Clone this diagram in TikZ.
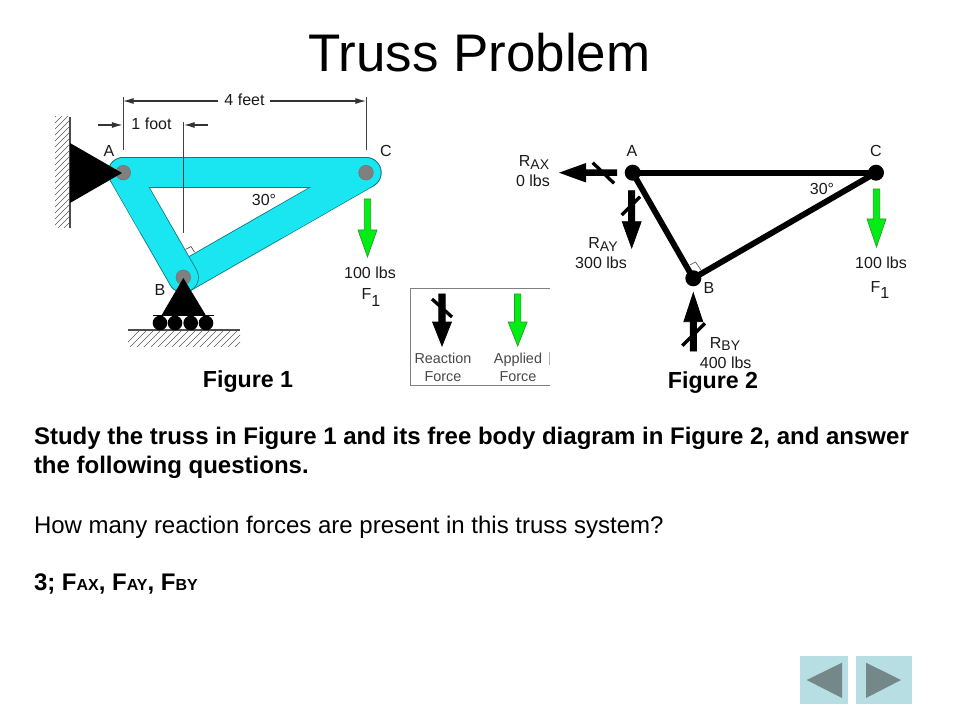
\documentclass[tikz,border=0pt]{standalone}
\usepackage{fontspec}
\usetikzlibrary{arrows.meta}
\setmainfont{Liberation Sans}
\definecolor{barfill}{HTML}{19E6F0}
\definecolor{baredge}{HTML}{0C7C84}
\definecolor{pingray}{HTML}{808080}
\definecolor{forcegreen}{HTML}{00EE14}
\definecolor{greenedge}{HTML}{2A9A2A}
\definecolor{btnface}{HTML}{B7DEE2}
\definecolor{btntri}{HTML}{74888A}
\definecolor{labelgray}{HTML}{1A1A1A}
\newcommand{\lowtxt}[1]{\raisebox{-0.15em}{\fontsize{10.5}{10.5}\selectfont #1}}
\newcommand{\subone}{\raisebox{-0.4em}{\fontsize{12}{12}\selectfont 1}}
\newcommand{\smalltxt}[1]{{\fontsize{12}{12}\selectfont #1}}
\newcommand{\arrowV}[6]{\path[draw=#6,fill=#5,line width=0.5pt] (#1-3.2,#2) -- (#1+3.2,#2) -- (#1+3.2,#3) -- (#1+9.5,#3) -- (#1,#4) -- (#1-9.5,#3) -- (#1-3.2,#3) -- cycle;}
\begin{document}
\begin{tikzpicture}[x=0.75pt,y=-0.75pt,
  every node/.style={inner sep=0pt,outer sep=0pt},
  titletext/.style={font=\fontsize{39.7}{39.7}\selectfont,anchor=base},
  bodytext/.style={font=\fontsize{18}{18}\selectfont,anchor=base west},
  boldtext/.style={font=\bfseries\fontsize{18}{18}\selectfont,anchor=base west},
  figtext/.style={font=\bfseries\fontsize{17.4}{17.4}\selectfont,anchor=base},
  dimtext/.style={font=\fontsize{12}{12}\selectfont,text=labelgray,anchor=base},
  legendtext/.style={font=\fontsize{10.8}{10.8}\selectfont,text=labelgray!80,anchor=base},
  barout/.style={line width=23.3pt,draw=baredge,line cap=round},
  barin/.style={line width=22pt,draw=barfill,line cap=round},
  barpatch/.style={line width=22pt,draw=barfill,line cap=butt},
  thinline/.style={line width=0.7pt,draw=black!75},
  dimarrow/.style={line width=0.8pt,draw=black!80,-{Latex[length=8pt,width=4.5pt]}},
  hatch/.style={line width=0.4pt,draw=black!65},
  member/.style={line width=4.4pt,draw=black},
  slash/.style={line width=2.5pt,draw=black},
  joint/.style={circle,fill=black,minimum size=12pt},
  pin/.style={circle,fill=pingray,draw=black!55,line width=0.4pt,minimum size=11pt},
  roller/.style={circle,fill=black,minimum size=11pt},
  solidtri/.style={fill=black},
  btn/.style={fill=btnface},
  btnmark/.style={fill=btntri}]
\useasboundingbox (0,0) rectangle (960,720);
\fill[white] (0,0) rectangle (960,720);

\node[titletext] (title) at (479.5,72) {Truss Problem};

% ---------- Figure 1 ----------
\coordinate (A1) at (123.3,172.7);
\coordinate (B1) at (183.3,277.3);
\coordinate (C1) at (366,172.7);
\coordinate (MAB) at (153,225);
\coordinate (MCB) at (275,225);

% hatching
\begin{scope}
\clip (55,117) rectangle (70,228);
\foreach \k in {0,6,...,138} \draw[hatch] (54,112+\k) -- (71,95+\k);
\end{scope}
\draw[line width=0.8pt,draw=black!70] (70,117) -- (70,228);
\begin{scope}
\clip (128,330) rectangle (240,346);
\foreach \k in {0,7,...,133} \draw[hatch] (122+\k,348) -- (142+\k,328);
\end{scope}
\draw[line width=0.8pt,draw=black!70] (128,330) -- (240,330);

% members
\draw[barout] (C1) -- (B1);
\draw[barin] (C1) -- (B1);
\draw[barout] (A1) -- (B1);
\draw[barin] (A1) -- (B1);
\draw[barout] (A1) -- (C1);
\draw[barpatch] (A1) -- (MAB);
\draw[barpatch] (C1) -- (MCB);
\draw[barin] (A1) -- (C1);

% right angle mark
\draw[line width=0.5pt,draw=black!70,fill=white] (185.5,249.5) -- (191,246.5) -- (194.5,252);

% dimension lines
\coordinate (D4L) at (123,101);
\coordinate (D4R) at (366,101);
\coordinate (D4ML) at (218,101);
\coordinate (D4MR) at (270,101);
\coordinate (E1T) at (123,97);
\coordinate (E1B) at (123,150);
\coordinate (E2T) at (366,97);
\coordinate (E2B) at (366,150);
\coordinate (E3T) at (183.5,122);
\coordinate (E3B) at (183.5,233);
\coordinate (D1L) at (98,125);
\coordinate (D1LT) at (122.5,125);
\coordinate (D1R) at (208,125);
\coordinate (D1RT) at (184,125);
\draw[thinline] (E1T) -- (E1B);
\draw[thinline] (E2T) -- (E2B);
\draw[thinline] (E3T) -- (E3B);
\draw[dimarrow] (D4ML) -- (D4L);
\draw[dimarrow] (D4MR) -- (D4R);
\draw[dimarrow] (D1L) -- (D1LT);
\draw[dimarrow] (D1R) -- (D1RT);
\node[dimtext] (d4) at (244.5,106) {4 feet};
\node[dimtext] (d1) at (151.5,130) {1 foot};

% pins
\node[pin] (pinA) at (A1) {};
\node[pin] (pinC) at (C1) {};
\node[pin] (pinB) at (B1) {};

% supports
\fill[solidtri] (70,143) -- (122,173) -- (70,203) -- cycle;
\fill[solidtri] (183.3,278) -- (205.7,315) -- (161.7,315) -- cycle;
\foreach \px/\nm in {160/ra,175/rb,190.7/rc,206/rd} \node[roller] (\nm) at (\px,323) {};
\draw[line width=0.7pt,draw=black] (153,315) -- (214,315);

\node[dimtext] (lA1) at (109,156.5) {A};
\node[dimtext] (lC1) at (386,157) {C};
\node[dimtext] (lB1) at (160,296) {B};
\node[dimtext] (l301) at (264,206) {30°};
\arrowV{367.5}{199}{230}{257}{forcegreen}{greenedge}
\node[dimtext] (f1v) at (370,279) {100 lbs};
\node[dimtext] (f1l) at (371,300) {F\subone};
\node[figtext] (fig1) at (248,387) {Figure 1};

% ---------- Legend ----------
\coordinate (LG1) at (550,288);
\coordinate (LG2) at (410,288);
\coordinate (LG3) at (410,385);
\coordinate (LG4) at (550,385);
\draw[line width=0.5pt,draw=black!50] (LG1) -- (LG2) -- (LG3) -- (LG4);
\draw[line width=0.5pt,draw=black!30] (549,352) -- (549,365);
\arrowV{442}{294}{322}{346}{black}{black}
\draw[slash] (432,299) -- (452,317);
\arrowV{517.7}{294}{322}{346}{forcegreen}{greenedge}
\node[legendtext] (lg1a) at (443,363.5) {Reaction};
\node[legendtext] (lg1b) at (443,381) {Force};
\node[legendtext] (lg2a) at (518,363.5) {Applied};
\node[legendtext] (lg2b) at (518,381) {Force};

% ---------- Figure 2 ----------
\coordinate (A2) at (632.7,172.7);
\coordinate (B2) at (693.3,278.3);
\coordinate (C2) at (876,172.7);
\draw[member] (A2) -- (C2);
\draw[member] (A2) -- (B2);
\draw[member] (B2) -- (C2);
\draw[line width=0.5pt,draw=black!65] (690,265) -- (695.5,262) -- (701,270);
\node[joint] (jA) at (A2) {};
\node[joint] (jB) at (B2) {};
\node[joint] (jC) at (C2) {};

\path[fill=black] (617,169.5) -- (586,169.5) -- (586,163) -- (559,172.7) -- (586,182.5) -- (586,176) -- (617,176) -- cycle;
\draw[slash] (592.7,162.7) -- (614,183.3);
\arrowV{631.7}{190.7}{221.7}{248}{black}{black}
\draw[slash] (621.7,215) -- (640,196.7);
\arrowV{693.3}{351}{321.7}{292.7}{black}{black}
\draw[slash] (682.3,345.7) -- (705,323.3);
\arrowV{876.5}{189}{219}{247}{forcegreen}{greenedge}

\node[dimtext] (lA2) at (632,157) {A};
\node[dimtext] (lC2) at (876,157) {C};
\node[dimtext] (lB2) at (709,293) {B};
\node[dimtext] (l302) at (822,194.5) {30°};
\node[dimtext] (rax) at (534,167) {R\lowtxt{AX}};
\node[dimtext] (raxv) at (533,187) {0 lbs};
\node[dimtext] (ray) at (603,249) {R\lowtxt{AY}};
\node[dimtext] (rayv) at (601,269) {300 lbs};
\node[dimtext] (rby) at (725,348) {R\lowtxt{BY}};
\node[dimtext] (rbyv) at (725.7,368) {400 lbs};
\node[dimtext] (f2v) at (881,269) {100 lbs};
\node[dimtext] (f2l) at (880,292) {F\subone};
\node[figtext] (fig2) at (713,388) {Figure 2};

% ---------- Text ----------
\node[boldtext] (t1) at (34,444) {Study the truss in Figure 1 and its free body diagram in Figure 2, and answer};
\node[boldtext] (t2) at (34,473) {the following questions.};
\node[bodytext] (t3) at (34,533) {How many reaction forces are present in this truss system?};
\node[boldtext] (t4) at (34,590) {3; F\smalltxt{AX}, F\smalltxt{AY}, F\smalltxt{BY}};

% ---------- Buttons ----------
\fill[btn] (800,656) rectangle (847.7,704);
\fill[btn] (856,656) rectangle (912,704);
\fill[btnmark] (806.7,680) -- (842,662.7) -- (842,698) -- cycle;
\fill[btnmark] (866,662.7) -- (901,680) -- (866,698) -- cycle;
\end{tikzpicture}
\end{document}
